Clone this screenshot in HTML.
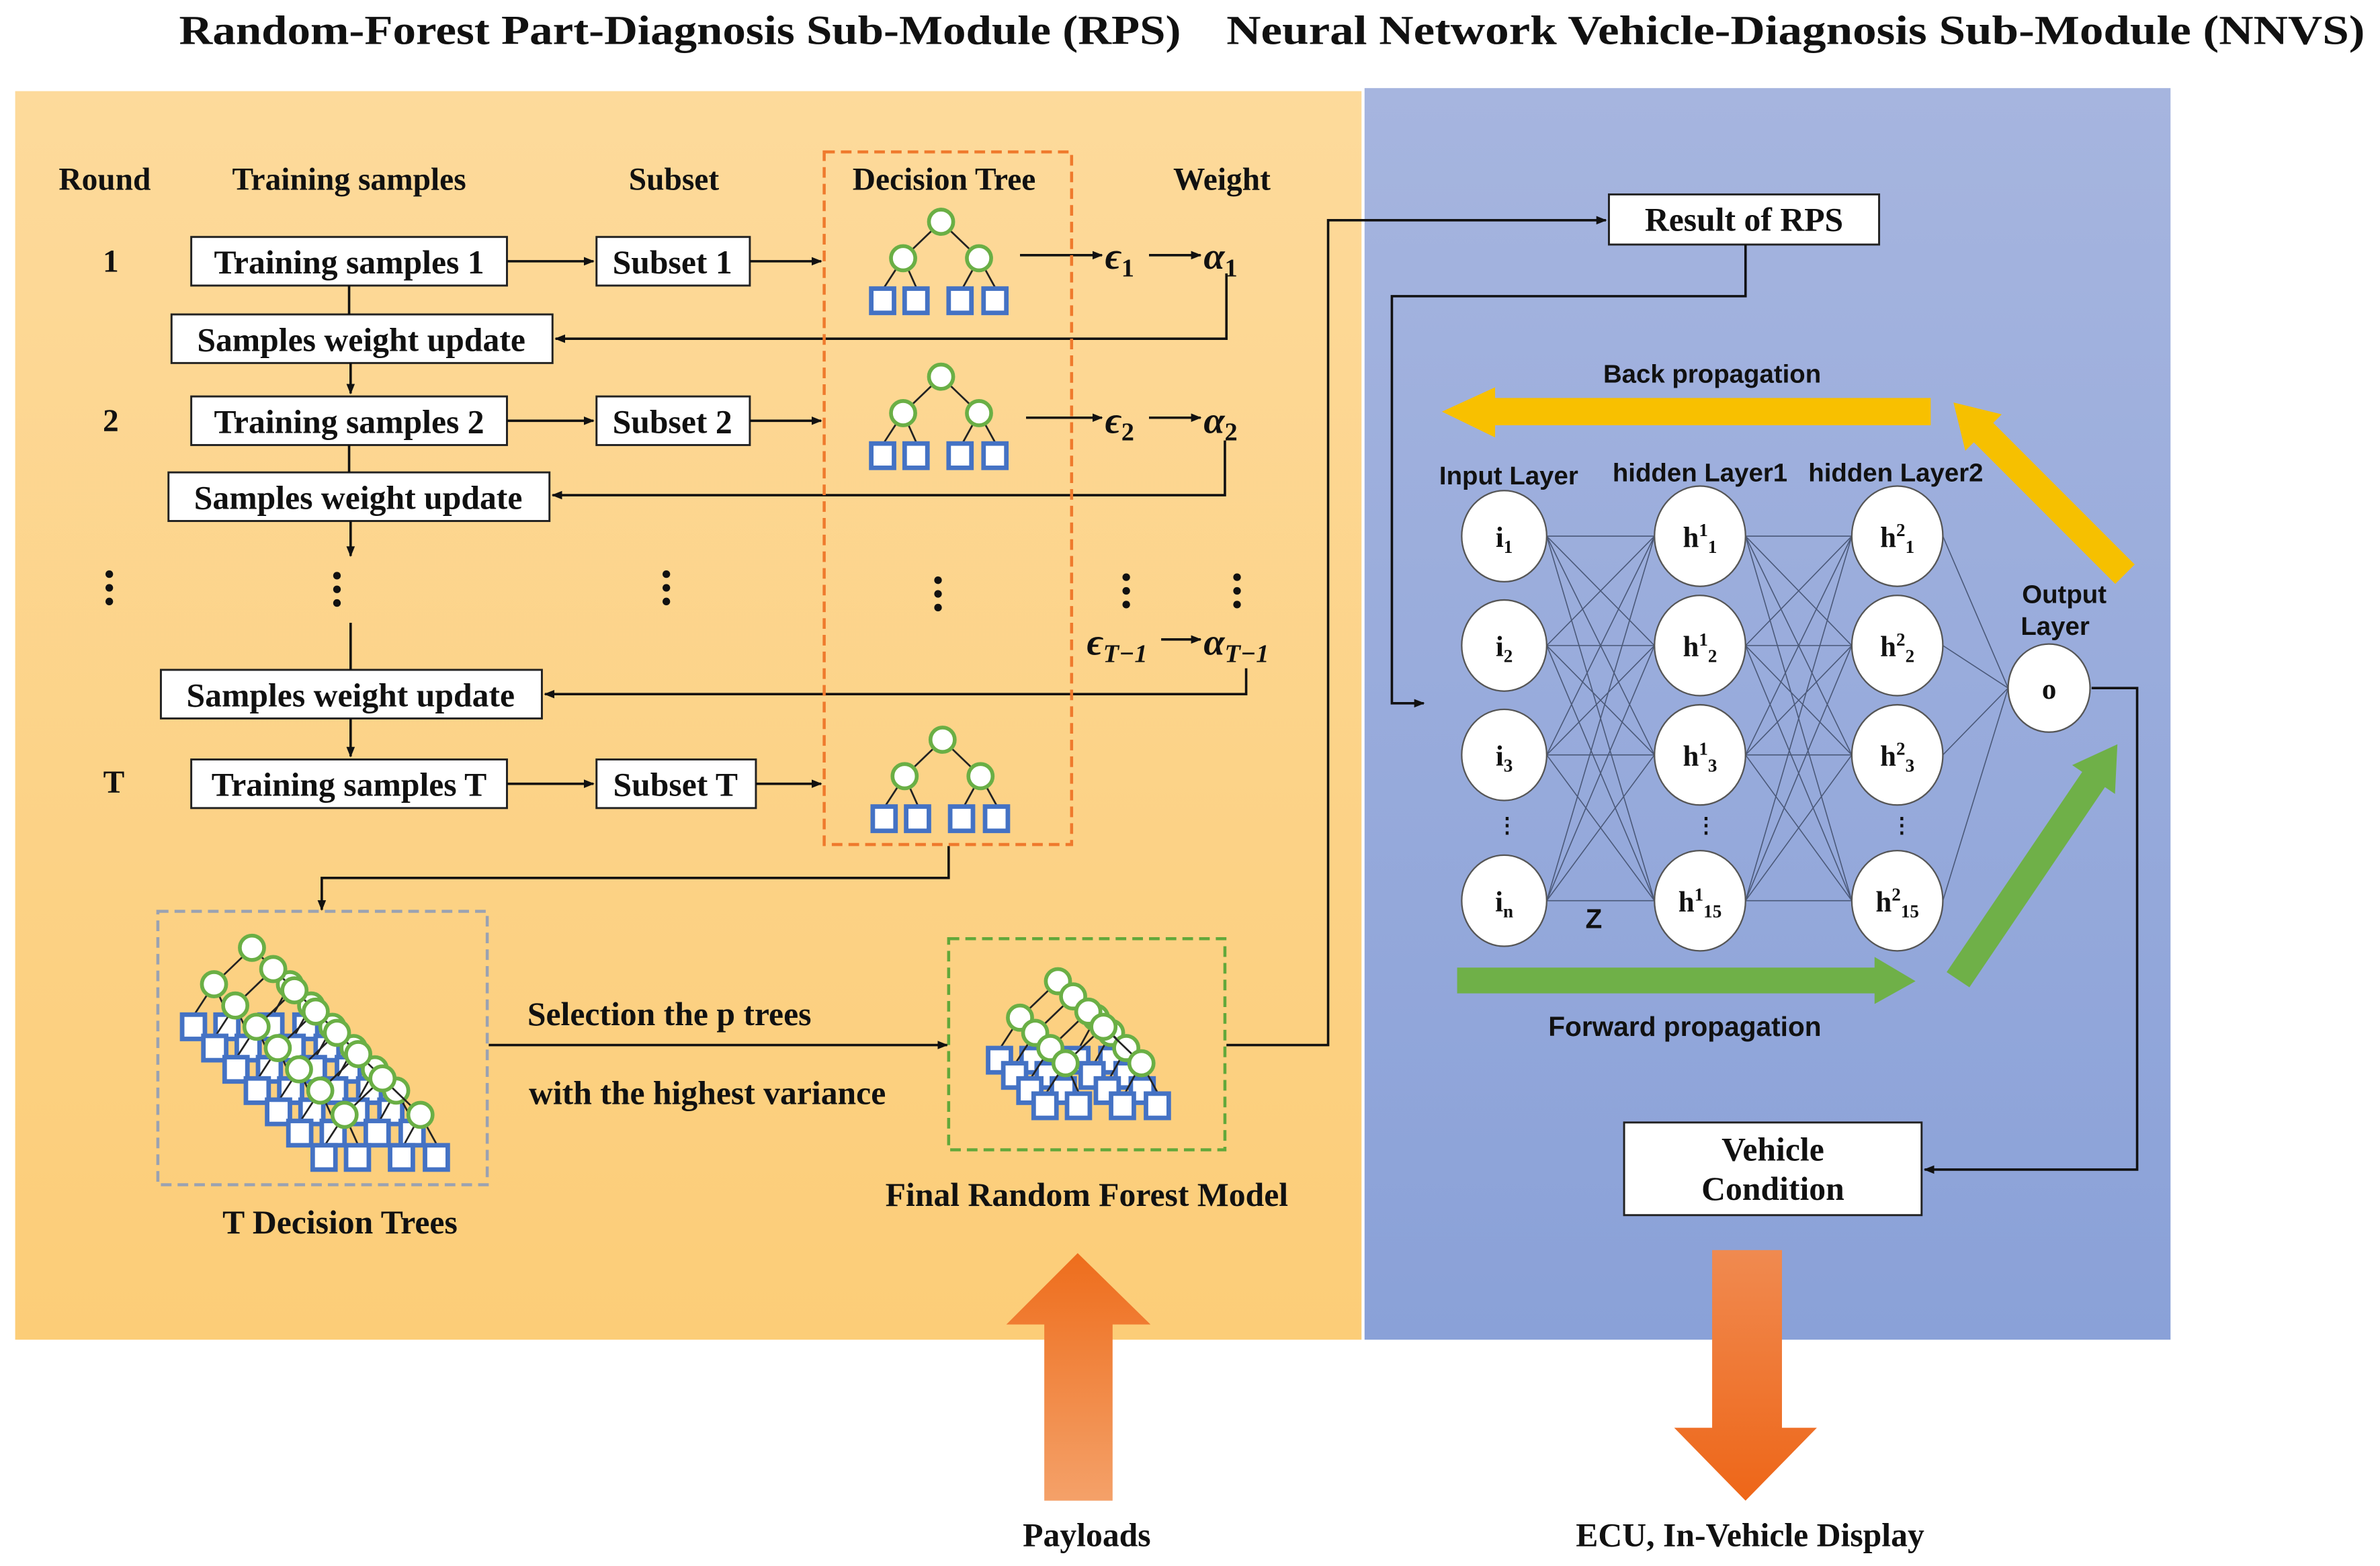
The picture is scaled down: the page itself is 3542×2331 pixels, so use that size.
<!DOCTYPE html>
<html><head><meta charset="utf-8"><style>
html,body{margin:0;padding:0;background:#fff;}
svg{display:block;}
.s{font-family:"Liberation Serif",serif;font-weight:bold;fill:#111;}
.n{font-family:"Liberation Sans",sans-serif;font-weight:bold;fill:#111;}
</style></head><body>
<svg width="3542" height="2331" viewBox="0 0 1568 1031" preserveAspectRatio="none" xmlns="http://www.w3.org/2000/svg">
<defs>
<linearGradient id="og" x1="0" y1="0" x2="0" y2="1"><stop offset="0" stop-color="#fdda9b"/><stop offset="1" stop-color="#fccd78"/></linearGradient>
<linearGradient id="bg" x1="0" y1="0" x2="0" y2="1"><stop offset="0" stop-color="#a6b5df"/><stop offset="1" stop-color="#8aa1d8"/></linearGradient>
<linearGradient id="ua" x1="0" y1="0" x2="0" y2="1"><stop offset="0" stop-color="#ee6d1c"/><stop offset="1" stop-color="#f4a169"/></linearGradient>
<linearGradient id="da" x1="0" y1="0" x2="0" y2="1"><stop offset="0" stop-color="#f08a50"/><stop offset="1" stop-color="#ee6618"/></linearGradient>
<marker id="ar" viewBox="0 0 10 10" refX="9" refY="5" markerWidth="7" markerHeight="7" orient="auto" markerUnits="userSpaceOnUse"><path d="M0,1 L10,5 L0,9 z" fill="#111"/></marker>
<g id="tree">
<path d="M0,0 L-25,24 M0,0 L25,24 M-25,24 L-38,44 M-25,24 L-16,44 M25,24 L14,44 M25,24 L36,44" stroke="#222" stroke-width="1.2" fill="none"/>
<circle cx="0" cy="0" r="8" fill="#fff" stroke="#6aaf45" stroke-width="2.5"/>
<circle cx="-25" cy="24" r="8" fill="#fff" stroke="#6aaf45" stroke-width="2.5"/>
<circle cx="25" cy="24" r="8" fill="#fff" stroke="#6aaf45" stroke-width="2.5"/>
<rect x="-46" y="44" width="15" height="16" fill="#fff" stroke="#4472c4" stroke-width="3"/>
<rect x="-24" y="44" width="15" height="16" fill="#fff" stroke="#4472c4" stroke-width="3"/>
<rect x="5" y="44" width="15" height="16" fill="#fff" stroke="#4472c4" stroke-width="3"/>
<rect x="28" y="44" width="15" height="16" fill="#fff" stroke="#4472c4" stroke-width="3"/>
</g>
</defs>
<rect width="1568" height="1031" fill="#fff"/>
<text class="s" x="118" y="29" font-size="27" textLength="660" lengthAdjust="spacingAndGlyphs">Random-Forest Part-Diagnosis Sub-Module (RPS)</text>
<text class="s" x="808" y="29" font-size="27" textLength="750" lengthAdjust="spacingAndGlyphs">Neural Network Vehicle-Diagnosis Sub-Module (NNVS)</text>
<rect x="10" y="60" width="887" height="822" fill="url(#og)"/>
<rect x="899" y="58" width="531" height="824" fill="url(#bg)"/>

<g class="s" font-size="21" text-anchor="middle">
<text x="69" y="125">Round</text><text x="230" y="125">Training samples</text><text x="444" y="125">Subset</text><text x="622" y="125">Decision Tree</text><text x="805" y="125">Weight</text>
<text x="73" y="179">1</text><text x="73" y="284">2</text><text x="75" y="522">T</text>
</g>
<g fill="#fff" stroke="#222" stroke-width="1.3">
<rect x="126" y="156" width="208" height="32"/><rect x="393" y="156" width="101" height="32"/>
<rect x="113" y="207" width="251" height="32"/>
<rect x="126" y="261" width="208" height="32"/><rect x="393" y="261" width="101" height="32"/>
<rect x="111" y="311" width="251" height="32"/>
<rect x="106" y="441" width="251" height="32"/>
<rect x="126" y="500" width="208" height="32"/><rect x="393" y="500" width="105" height="32"/>
<rect x="1060" y="128" width="178" height="33"/>
<rect x="1070" y="739" width="196" height="61"/>
</g>
<g class="s" font-size="22" text-anchor="middle">
<text x="230" y="180">Training samples 1</text><text x="443" y="180">Subset 1</text>
<text x="238" y="231">Samples weight update</text>
<text x="230" y="285">Training samples 2</text><text x="443" y="285">Subset 2</text>
<text x="236" y="335">Samples weight update</text>
<text x="231" y="465">Samples weight update</text>
<text x="230" y="524">Training samples T</text><text x="445" y="524">Subset T</text>
<text x="1149" y="152">Result of RPS</text>
<text x="1168" y="764">Vehicle</text><text x="1168" y="790">Condition</text>
<text x="441" y="675">Selection the p trees</text>
<text x="466" y="727">with the highest variance</text>
<text x="224" y="812">T Decision Trees</text>
<text x="716" y="794">Final Random Forest Model</text>
<text x="716" y="1018">Payloads</text>
<text x="1153" y="1018">ECU, In-Vehicle Display</text>
</g>
<g fill="#111">
<circle cx="72" cy="378" r="2.5"/><circle cx="72" cy="387" r="2.5"/><circle cx="72" cy="396" r="2.5"/>
<circle cx="222" cy="379" r="2.5"/><circle cx="222" cy="388" r="2.5"/><circle cx="222" cy="397" r="2.5"/>
<circle cx="439" cy="378" r="2.5"/><circle cx="439" cy="387" r="2.5"/><circle cx="439" cy="396" r="2.5"/>
<circle cx="618" cy="382" r="2.5"/><circle cx="618" cy="391" r="2.5"/><circle cx="618" cy="400" r="2.5"/>
<circle cx="742" cy="380" r="2.5"/><circle cx="742" cy="389" r="2.5"/><circle cx="742" cy="398" r="2.5"/>
<circle cx="815" cy="380" r="2.5"/><circle cx="815" cy="389" r="2.5"/><circle cx="815" cy="398" r="2.5"/>
</g>
<g font-family="Liberation Serif,serif" font-style="italic" font-weight="bold" fill="#111" font-size="25">
<text x="728" y="177">ϵ<tspan font-size="17" font-style="normal" dy="5">1</tspan></text>
<text x="793" y="177">α<tspan font-size="17" font-style="normal" dy="5">1</tspan></text>
<text x="728" y="285">ϵ<tspan font-size="17" font-style="normal" dy="5">2</tspan></text>
<text x="793" y="285">α<tspan font-size="17" font-style="normal" dy="5">2</tspan></text>
<text x="716" y="431">ϵ<tspan font-size="17" dy="5">T−1</tspan></text>
<text x="793" y="431">α<tspan font-size="17" dy="5">T−1</tspan></text>
</g>
<g stroke="#111" stroke-width="1.6" fill="none">
<path d="M334 172 H391" marker-end="url(#ar)"/><path d="M494 172 H541" marker-end="url(#ar)"/>
<path d="M334 277 H391" marker-end="url(#ar)"/><path d="M494 277 H541" marker-end="url(#ar)"/>
<path d="M334 516 H391" marker-end="url(#ar)"/><path d="M498 516 H541" marker-end="url(#ar)"/>
<path d="M672 168 H726" marker-end="url(#ar)"/><path d="M757 168 H791" marker-end="url(#ar)"/>
<path d="M676 275 H726" marker-end="url(#ar)"/><path d="M757 275 H791" marker-end="url(#ar)"/>
<path d="M765 421 H791" marker-end="url(#ar)"/>
<path d="M808 180 V223 H366" marker-end="url(#ar)"/>
<path d="M807 290 V326 H364" marker-end="url(#ar)"/>
<path d="M821 440 V457 H359" marker-end="url(#ar)"/>
<path d="M230 188 V207"/><path d="M231 239 V259" marker-end="url(#ar)"/>
<path d="M230 293 V311"/><path d="M231 343 V366" marker-end="url(#ar)"/>
<path d="M231 410 V441"/><path d="M231 473 V498" marker-end="url(#ar)"/>
<path d="M625 557 V578 H212 V599" marker-end="url(#ar)"/>
<path d="M322 688 H624" marker-end="url(#ar)"/>
<path d="M808 688 H875 V145 H1058" marker-end="url(#ar)"/>
<path d="M1150 161 V195 H917 V463 H938" marker-end="url(#ar)"/>
<path d="M1378 453 H1408 V770 H1268" marker-end="url(#ar)"/>
</g>
<rect x="543" y="100" width="163" height="456" fill="none" stroke="#ef7a2d" stroke-width="2" stroke-dasharray="7,4"/>
<rect x="104" y="600" width="217" height="180" fill="none" stroke="#9aa2b2" stroke-width="2" stroke-dasharray="7,4"/>
<rect x="625" y="618" width="182" height="139" fill="none" stroke="#62a83a" stroke-width="2" stroke-dasharray="7,4"/>
<use href="#tree" x="620" y="146"/>
<use href="#tree" x="620" y="248"/>
<use href="#tree" x="621" y="487"/>
<use href="#tree" x="166" y="624"/><use href="#tree" x="180" y="638"/><use href="#tree" x="194" y="652"/><use href="#tree" x="208" y="666"/><use href="#tree" x="222" y="680"/><use href="#tree" x="236" y="694"/><use href="#tree" x="252" y="710"/>
<use href="#tree" x="697" y="646"/><use href="#tree" x="707" y="656"/><use href="#tree" x="717" y="666"/><use href="#tree" x="727" y="676"/>
<g stroke="#4a5878" stroke-width="0.7" fill="none">
<path d="M1019 353L1090 353M1019 353L1090 425M1019 353L1090 497M1019 353L1090 593M1019 425L1090 353M1019 425L1090 425M1019 425L1090 497M1019 425L1090 593M1019 497L1090 353M1019 497L1090 425M1019 497L1090 497M1019 497L1090 593M1019 593L1090 353M1019 593L1090 425M1019 593L1090 497M1019 593L1090 593"/>
<path d="M1150 353L1220 353M1150 353L1220 425M1150 353L1220 497M1150 353L1220 593M1150 425L1220 353M1150 425L1220 425M1150 425L1220 497M1150 425L1220 593M1150 497L1220 353M1150 497L1220 425M1150 497L1220 497M1150 497L1220 593M1150 593L1220 353M1150 593L1220 425M1150 593L1220 497M1150 593L1220 593"/>
<path d="M1280 353L1323 453M1280 425L1323 453M1280 497L1323 453M1280 593L1323 453"/>
</g>
<g fill="#fff" stroke="#555" stroke-width="1">
<ellipse cx="991" cy="353" rx="28" ry="30"/><ellipse cx="991" cy="425" rx="28" ry="30"/><ellipse cx="991" cy="497" rx="28" ry="30"/><ellipse cx="991" cy="593" rx="28" ry="30"/>
<ellipse cx="1120" cy="353" rx="30" ry="33"/><ellipse cx="1120" cy="425" rx="30" ry="33"/><ellipse cx="1120" cy="497" rx="30" ry="33"/><ellipse cx="1120" cy="593" rx="30" ry="33"/>
<ellipse cx="1250" cy="353" rx="30" ry="33"/><ellipse cx="1250" cy="425" rx="30" ry="33"/><ellipse cx="1250" cy="497" rx="30" ry="33"/><ellipse cx="1250" cy="593" rx="30" ry="33"/>
<ellipse cx="1350" cy="453" rx="27" ry="29"/>
</g>
<g font-family="Liberation Serif,serif" font-size="19" font-weight="bold" fill="#111" text-anchor="middle">
<text x="991" y="360">i<tspan font-size="12" dy="4">1</tspan></text>
<text x="991" y="432">i<tspan font-size="12" dy="4">2</tspan></text>
<text x="991" y="504">i<tspan font-size="12" dy="4">3</tspan></text>
<text x="991" y="600">i<tspan font-size="12" dy="4">n</tspan></text>
<text x="1120" y="360">h<tspan font-size="12" dy="-7">1</tspan><tspan font-size="12" dy="11">1</tspan></text>
<text x="1120" y="432">h<tspan font-size="12" dy="-7">1</tspan><tspan font-size="12" dy="11">2</tspan></text>
<text x="1120" y="504">h<tspan font-size="12" dy="-7">1</tspan><tspan font-size="12" dy="11">3</tspan></text>
<text x="1120" y="600">h<tspan font-size="12" dy="-7">1</tspan><tspan font-size="12" dy="11">15</tspan></text>
<text x="1250" y="360">h<tspan font-size="12" dy="-7">2</tspan><tspan font-size="12" dy="11">1</tspan></text>
<text x="1250" y="432">h<tspan font-size="12" dy="-7">2</tspan><tspan font-size="12" dy="11">2</tspan></text>
<text x="1250" y="504">h<tspan font-size="12" dy="-7">2</tspan><tspan font-size="12" dy="11">3</tspan></text>
<text x="1250" y="600">h<tspan font-size="12" dy="-7">2</tspan><tspan font-size="12" dy="11">15</tspan></text>
<text x="1350" y="460">o</text>
<text x="993" y="548" font-size="14">⋮</text><text x="1124" y="548" font-size="14">⋮</text><text x="1253" y="548" font-size="14">⋮</text>
</g>
<g class="n" font-size="17" text-anchor="middle">
<text x="1128" y="252">Back propagation</text>
<text x="994" y="319">Input Layer</text>
<text x="1120" y="317">hidden Layer1</text>
<text x="1249" y="317">hidden Layer2</text>
<text x="1360" y="397">Output</text><text x="1354" y="418">Layer</text>
<text x="1050" y="611" font-size="18">Z</text>
<text x="1110" y="682" font-size="18">Forward propagation</text>
</g>
<path d="M1272 262 H985 V255 L950 271 L985 288 V280 H1272 Z" fill="#f8c000"/>
<path d="M1406.4 371.6 L1313.2 278.4 L1318.8 272.8 L1287 265 L1294.8 296.8 L1300.4 291.2 L1393.6 384.4 Z" fill="#f6c000"/>
<path d="M960 637 H1235 V630 L1262 646 L1235 661 V654 H960 Z" fill="#6fb048"/>
<path d="M1297.5 650 L1386.8 518.2 L1393.4 522.7 L1395 490 L1365.2 503.7 L1371.8 508.2 L1282.5 640 Z" fill="#6fb048"/>
<path d="M663 872 L710 825 L758 872 H733 V988 H688 V872 Z" fill="url(#ua)"/>
<path d="M1128 823 H1174 V940 H1197 L1150 988 L1103 940 H1128 Z" fill="url(#da)"/>
</svg>
</body></html>
